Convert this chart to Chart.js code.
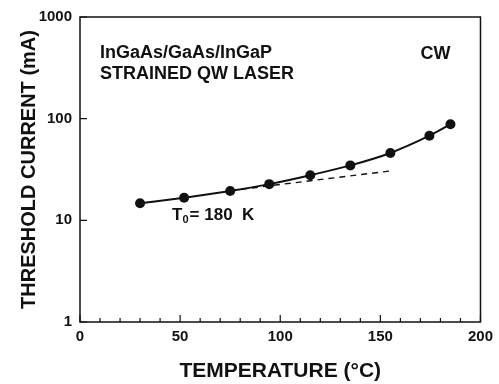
<!DOCTYPE html>
<html>
<head>
<meta charset="utf-8">
<script src="https://cdn.jsdelivr.net/npm/chart.js@4.4.1/dist/chart.umd.min.js"></script>
<style>
  html, body { margin: 0; padding: 0; background: #fff; }
  #contenedor { width: 499px; height: 384px; }
</style>
</head>
<body>
<div id="contenedor"><canvas id="grafica_umbral"></canvas></div>
<script>
/* measured points: temperature (C) vs threshold current (mA) */
const temperaturas = [30, 52, 75, 94.5, 115, 135, 155, 174.5, 185];
const corrientes   = [14.7, 16.7, 19.4, 22.7, 27.8, 34.7, 46, 68, 88];

/* T0 = 180 K fit (dashed) */
const ajuste_temp      = [75, 155];
const ajuste_corriente = [19.6, 30.6];

/* tick labels */
const ticks_y = [1, 10, 100, 1000];
const ticks_x = [0, 50, 100, 150, 200];

const FUENTE = 'Liberation Sans, Arial, sans-serif';
const NEGRO  = '#111';

/* text notes placed in data coordinates */
const notas = [
    { texto: 'InGaAs/GaAs/InGaP', x: 10,  y: 445, tam: 18 },
    { texto: 'STRAINED QW LASER', x: 10,  y: 272, tam: 18 },
    { texto: 'CW',                x: 170, y: 430, tam: 18 }
];

/* frame, inward tick marks and text notes */
const decorado = {
    id: 'decorado',
    afterDraw(chart) {
        const { ctx, chartArea: a, scales: { x, y } } = chart;
        ctx.save();
        ctx.strokeStyle = NEGRO;
        ctx.lineWidth = 1.5;
        ctx.strokeRect(a.left, a.top, a.right - a.left, a.bottom - a.top);

        /* inward ticks */
        ctx.lineWidth = 1.2;
        ctx.beginPath();
        x.ticks.forEach(t => {
            const px = x.getPixelForValue(t.value);
            const largo = ticks_x.includes(t.value) ? 7 : 4;
            ctx.moveTo(px, a.bottom);
            ctx.lineTo(px, a.bottom - largo);
        });
        y.ticks.forEach(t => {
            const py = y.getPixelForValue(t.value);
            ctx.moveTo(a.left, py);
            ctx.lineTo(a.left + 7, py);
        });
        ctx.stroke();

        /* notes */
        ctx.fillStyle = NEGRO;
        ctx.textBaseline = 'middle';
        ctx.textAlign = 'left';
        notas.forEach(n => {
            ctx.font = `bold ${n.tam}px ${FUENTE}`;
            ctx.fillText(n.texto, x.getPixelForValue(n.x), y.getPixelForValue(n.y));
        });

        /* T0 = 180 K with subscript */
        let px = x.getPixelForValue(46);
        const py = y.getPixelForValue(11.3);
        ctx.font = `bold 17px ${FUENTE}`;
        ctx.fillText('T', px, py);
        px += ctx.measureText('T').width;
        ctx.font = `bold 11px ${FUENTE}`;
        ctx.fillText('0', px, py + 5);
        px += ctx.measureText('0').width + 1;
        ctx.font = `bold 17px ${FUENTE}`;
        ctx.fillText('= 180  K', px, py);
        ctx.restore();
    }
};

new Chart(document.getElementById('grafica_umbral'), {
    type: 'line',
    data: {
        datasets: [
            {
                label: 'Ith',
                data: temperaturas.map((t, i) => ({ x: t, y: corrientes[i] })),
                borderColor: NEGRO,
                backgroundColor: NEGRO,
                borderWidth: 2,
                pointRadius: 5,
                pointBackgroundColor: NEGRO,
                pointBorderWidth: 0,
                cubicInterpolationMode: 'monotone'
            },
            {
                label: 'T0',
                data: ajuste_temp.map((t, i) => ({ x: t, y: ajuste_corriente[i] })),
                borderColor: NEGRO,
                borderWidth: 1.4,
                borderDash: [6, 5],
                pointRadius: 0
            }
        ]
    },
    options: {
        responsive: true,
        maintainAspectRatio: false,
        animation: false,
        layout: { padding: { left: 0, right: 17, top: 8, bottom: 0 } },
        plugins: { legend: { display: false }, tooltip: { enabled: false } },
        scales: {
            x: {
                type: 'linear',
                min: 0, max: 200,
                afterFit: s => { s.height = 62; },
                ticks: {
                    stepSize: 10,
                    autoSkip: false,
                    maxRotation: 0,
                    padding: 6,
                    color: NEGRO,
                    font: { family: FUENTE, size: 15, weight: 'bold' },
                    callback: v => ticks_x.includes(v) ? String(v) : ''
                },
                grid: { display: false, drawTicks: false },
                border: { display: false },
                title: {
                    display: true,
                    text: 'TEMPERATURE (°C)',
                    color: NEGRO,
                    font: { family: FUENTE, size: 21, weight: 'bold' },
                    padding: { top: 0, bottom: 0 }
                }
            },
            y: {
                type: 'logarithmic',
                min: 1, max: 1000,
                afterFit: s => { s.width = 80; },
                afterBuildTicks: s => { s.ticks = ticks_y.map(v => ({ value: v })); },
                ticks: {
                    padding: 8,
                    color: NEGRO,
                    font: { family: FUENTE, size: 15, weight: 'bold' },
                    callback: v => String(v)
                },
                grid: { display: false, drawTicks: false },
                border: { display: false },
                title: {
                    display: true,
                    text: 'THRESHOLD CURRENT (mA)',
                    color: NEGRO,
                    font: { family: FUENTE, size: 20, weight: 'bold' },
                    padding: { top: 17, bottom: 0 }
                }
            }
        }
    },
    plugins: [decorado]
});
</script>
</body>
</html>
